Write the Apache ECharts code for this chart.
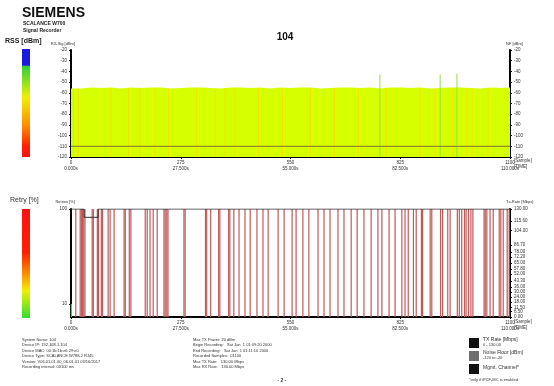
<!DOCTYPE html>
<html><head><meta charset="utf-8">
<script src="https://cdn.jsdelivr.net/npm/echarts@6/dist/echarts.min.js"></script>
<style>html,body{margin:0;padding:0;background:#fff}#c{width:554px;height:386px}</style>
</head><body><div id="c"></div>
<script>
// ---- data ----
const sampleTicks = [0, 275, 550, 825, 1100];
const timeLabels = ['0.000s', '27.500s', '55.000s', '82.500s', '110.000s'];
const rssSamples = [0,25,50,75,100,125,150,175,200,225,250,275,300,325,350,375,400,425,450,475,500,525,550,575,600,625,650,675,700,725,750,775,800,825,850,875,900,925,950,975,1000,1025,1050,1075,1100];
const rssValues = [-56,-55,-55.5,-55,-56,-55,-55.5,-55,-55,-56,-55.5,-55,-55,-55.5,-56,-55,-55,-55.5,-55,-56,-55,-55.5,-55,-55,-56,-55.5,-55,-55,-55.5,-55,-56,-55,-55,-55.5,-55,-56,-55.5,-55,-55,-55.5,-56,-55,-55.5,-55,-55];
const stripeSamples = [6,18,100,144,173,210,244,315,361,386,411,470,530,600,660,720,790,875,912,957,992,1005,1045];
const stripeValues = [-56,-56,-56,-56,-56,-56,-56,-56,-56,-56,-56,-56,-56,-56,-56,-56,-56,-56,-56,-56,-56,-56,-56];
const spikeSamples = [774, 925, 967];
const spikeValues = [-43, -43, -42];
const noiseSamples = [0, 1100];
const noiseValues = [-110, -110];
const retrySamples = [12,23,26,29,32,35,53,56,66,69,76,79,93,98,108,133,136,146,150,186,191,198,206,216,233,236,240,243,283,286,337,340,350,370,373,395,398,408,421,436,449,466,481,494,519,534,554,564,581,596,619,634,649,669,684,702,717,734,752,769,779,797,812,829,837,845,858,865,878,881,900,904,926,931,944,950,968,973,979,986,990,996,1002,1007,1035,1038,1042,1050,1058,1073,1077,1083,1093,1098];
const retryLowSamples = [1];
const retryLowValues = [10];
const txSamples = [0, 33, 68, 1100];
const txValues = [130, 120, 130, 130];
const txTicks = [0, 6.5, 11.5, 18, 24, 30, 36, 43.3, 52, 57.8, 65, 72.2, 78, 86.7, 104, 115.6, 130];

// ---- build ----
const FONT = 'Liberation Sans, Arial, sans-serif';
const pair = (xs, ys) => xs.map((x, i) => [x, ys[i]]);
const chart = echarts.init(document.getElementById('c'));

function vline(width, color) {
  return function (params, api) {
    const x = api.value(0), v = api.value(1);
    const p = api.coord([x, v]);
    const cs = params.coordSys;
    return { type: 'rect', shape: { x: p[0] - width / 2, y: p[1], width: width, height: cs.y + cs.height - p[1] }, style: { fill: color } };
  };
}

const axLine = { show: true, lineStyle: { color: '#000', width: 2 } };
const lbl = { fontSize: 4.5, color: '#333', fontFamily: FONT };
function xAxis(grid) {
  return {
    type: 'value', gridIndex: grid, min: 0, max: 1100, interval: 275,
    axisLine: axLine, axisTick: { show: true, length: 2, lineStyle: { color: '#000', width: 1 } },
    splitLine: { show: false },
    axisLabel: Object.assign({}, lbl, { margin: 3, lineHeight: 6, formatter: v => { const i = sampleTicks.indexOf(v); return i < 0 ? '' : v + '\n' + timeLabels[i]; } })
  };
}
function dbmAxis(pos, name) {
  return {
    type: 'value', gridIndex: 0, position: pos, min: -120, max: -20, interval: 10,
    name: name, nameLocation: 'end', nameGap: 4,
    nameTextStyle: { fontSize: 4, color: '#333', fontFamily: FONT, align: pos === 'left' ? 'right' : 'left', padding: pos === 'left' ? [0, -4, 0, 0] : [0, 0, 0, -4] },
    axisLine: axLine, axisTick: { show: true, length: 2, lineStyle: { color: '#000', width: 1 } },
    splitLine: { show: false }, axisLabel: Object.assign({}, lbl, { margin: 4 })
  };
}

chart.setOption({
  animation: false,
  backgroundColor: '#fff',
  grid: [
    { left: 71, right: 44, top: 50, height: 107 },
    { left: 71, right: 44, top: 209, height: 108 }
  ],
  xAxis: [xAxis(0), xAxis(1)],
  yAxis: [
    dbmAxis('left', 'RX-Sig [dBm]'),
    dbmAxis('right', 'NF [dBm]'),
    {
      type: 'log', gridIndex: 1, position: 'left', min: 7.3, max: 100, logBase: 10,
      name: 'Retries [%]', nameLocation: 'end', nameGap: 5,
      nameTextStyle: { fontSize: 4, color: '#333', fontFamily: FONT, align: 'right', padding: [0, -4, 0, 0] },
      axisLine: axLine, axisTick: { show: true, length: 2, lineStyle: { color: '#000', width: 1 } },
      splitLine: { show: false }, minorTick: { show: false },
      axisLabel: Object.assign({}, lbl, { margin: 4, showMinLabel: false })
    },
    {
      type: 'value', gridIndex: 1, position: 'right', min: 0, max: 130,
      name: 'Tx-Rate [Mbps]', nameLocation: 'end', nameGap: 5,
      nameTextStyle: { fontSize: 4, color: '#333', fontFamily: FONT, align: 'left', padding: [0, 0, 0, -4] },
      axisLine: axLine,
      axisTick: { show: true, length: 2, customValues: txTicks, lineStyle: { color: '#000', width: 1 } },
      splitLine: { show: false },
      axisLabel: Object.assign({}, lbl, { margin: 4, customValues: txTicks, formatter: v => v.toFixed(2) })
    }
  ],
  series: [
    { type: 'line', xAxisIndex: 0, yAxisIndex: 0, data: pair(rssSamples, rssValues), step: 'end', symbol: 'none',
      lineStyle: { width: 0 }, areaStyle: { color: '#d6ff00', opacity: 1, origin: 'start' }, z: 1 },
    { type: 'custom', xAxisIndex: 0, yAxisIndex: 0, data: pair(stripeSamples, stripeValues), renderItem: vline(1, '#f0e400'), z: 2 },
    { type: 'custom', xAxisIndex: 0, yAxisIndex: 0, data: pair(spikeSamples, spikeValues), renderItem: vline(1, '#98e040'), z: 2 },
    { type: 'line', xAxisIndex: 0, yAxisIndex: 0, data: pair(noiseSamples, noiseValues), symbol: 'none',
      lineStyle: { color: '#7f7434', width: 1 }, z: 3 },
    { type: 'custom', xAxisIndex: 1, yAxisIndex: 2, data: retrySamples.map(s => [s, 100]), renderItem: vline(1.2, '#c0595a'), z: 2 },
    { type: 'custom', xAxisIndex: 1, yAxisIndex: 2, data: pair(retryLowSamples, retryLowValues), renderItem: vline(1.2, '#40d040'), z: 2 },
    { type: 'line', xAxisIndex: 1, yAxisIndex: 3, data: pair(txSamples, txValues), step: 'end', symbol: 'none',
      lineStyle: { color: '#333', width: 1 }, z: 4 }
  ],
  graphic: [
    { type: 'text', x: 22, y: 6, style: { text: 'SIEMENS', font: 'bold 14px ' + FONT, fill: '#111' } },
    { type: 'text', x: 23, y: 21, style: { text: 'SCALANCE W700', font: 'bold 5px ' + FONT, fill: '#222' } },
    { type: 'text', x: 23, y: 28, style: { text: 'Signal Recorder', font: 'bold 5px ' + FONT, fill: '#222' } },
    { type: 'text', x: 5, y: 38, style: { text: 'RSS [dBm]', font: 'bold 7px ' + FONT, fill: '#222' } },
    { type: 'text', x: 285, y: 37, style: { text: '104', font: 'bold 10px ' + FONT, fill: '#111', align: 'center', verticalAlign: 'middle' } },
    { type: 'rect', shape: { x: 22, y: 49, width: 8, height: 108 }, style: { fill: new echarts.graphic.LinearGradient(0, 0, 0, 1, [
      { offset: 0, color: '#1a1ae0' }, { offset: 0.15, color: '#1a1ae0' }, { offset: 0.16, color: '#30d040' },
      { offset: 0.45, color: '#f0f000' }, { offset: 0.7, color: '#ff9000' }, { offset: 0.9, color: '#ff2000' }, { offset: 1, color: '#ff1010' }]) } },
    { type: 'text', x: 514, y: 158, style: { text: '[Sample]\n[TIME]', font: '4.5px ' + FONT, fill: '#333', lineHeight: 6 } },
    { type: 'text', x: 10, y: 197, style: { text: 'Retry [%]', font: '7px ' + FONT, fill: '#333' } },
    { type: 'rect', shape: { x: 22, y: 209, width: 8, height: 109 }, style: { fill: new echarts.graphic.LinearGradient(0, 0, 0, 1, [
      { offset: 0, color: '#ff1010' }, { offset: 0.4, color: '#ff2000' }, { offset: 0.6, color: '#ff9000' },
      { offset: 0.75, color: '#f0f000' }, { offset: 1, color: '#30e030' }]) } },
    { type: 'text', x: 514, y: 319, style: { text: '[Sample]\n[TIME]', font: '4.5px ' + FONT, fill: '#333', lineHeight: 6 } },
    { type: 'text', x: 22, y: 337, style: { text: 'System Name: 104\nDevice IP: 192.168.1.104\nDevice MAC: 00:1b:1b:e6:29:e0\nDevice Type: SCALANCE W788-2 RJ45\nVersion: V06.01.01.00_06.01.01 03/16/2017\nRecording interval: 00100 ms', font: '4px ' + FONT, fill: '#333', lineHeight: 5.5 } },
    { type: 'text', x: 193, y: 337, style: { text: 'Max TX Power: 20 dBm\nBegin Recording:   Sat Jan  1 01:09:20 2000\nEnd Recording:   Sat Jan  1 01:11:10 2000\nRecorded Samples:  01100\nMax TX Rate:   130.00 Mbps\nMax RX Rate:   130.00 Mbps', font: '4px ' + FONT, fill: '#333', lineHeight: 5.5 } },
    { type: 'rect', shape: { x: 469, y: 338, width: 10, height: 10 }, style: { fill: '#111' } },
    { type: 'rect', shape: { x: 469, y: 351, width: 10, height: 10 }, style: { fill: '#6e6e6e' } },
    { type: 'rect', shape: { x: 469, y: 364, width: 10, height: 10 }, style: { fill: '#111' } },
    { type: 'text', x: 483, y: 337, style: { text: 'TX Rate [Mbps]', font: '5px ' + FONT, fill: '#333' } },
    { type: 'text', x: 483, y: 343, style: { text: '0 - 130.00', font: '4px ' + FONT, fill: '#333' } },
    { type: 'text', x: 483, y: 350, style: { text: 'Noise Floor [dBm]', font: '5px ' + FONT, fill: '#333' } },
    { type: 'text', x: 483, y: 356, style: { text: '-120 to -20', font: '4px ' + FONT, fill: '#333' } },
    { type: 'text', x: 483, y: 365, style: { text: 'Mgmt. Channel*', font: '5px ' + FONT, fill: '#333' } },
    { type: 'text', x: 469, y: 378, style: { text: '*only if iPCF-MC is enabled', font: '4px ' + FONT, fill: '#333' } },
    { type: 'text', x: 282, y: 381, style: { text: '- 2 -', font: 'bold 5px ' + FONT, fill: '#333', align: 'center', verticalAlign: 'middle' } }
  ]
});
</script></body></html>
